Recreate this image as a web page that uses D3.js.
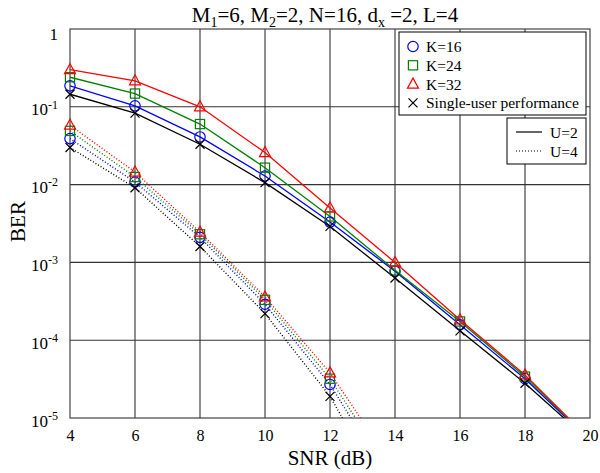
<!DOCTYPE html>
<html>
<head>
<meta charset="utf-8">
<script src="https://cdn.jsdelivr.net/npm/d3@7"></script>
<style>
body { margin: 0; background: #fff; }
svg, svg text { font-family: "Liberation Serif", "DejaVu Serif", serif; }
</style>
</head>
<body>
<script>
// data
var snr = [4, 6, 8, 10, 12, 14, 16, 18, 20];
var xTicks = [4, 6, 8, 10, 12, 14, 16, 18, 20];
var yTicks = [1, 1e-1, 1e-2, 1e-3, 1e-4, 1e-5];

// U=2 (solid)
var u2_k16 = [0.186, 0.103, 0.041, 0.0129, 0.0033, 7.7e-4, 1.58e-4, 3.2e-5, 5.1e-6];
var u2_k24 = [0.24, 0.148, 0.060, 0.0165, 0.0039, 7.9e-4, 1.74e-4, 3.4e-5, 5.2e-6];
var u2_k32 = [0.30, 0.216, 0.100, 0.0258, 0.0050, 1.0e-3, 1.83e-4, 3.58e-5, 5.3e-6];
var u2_single = [0.145, 0.083, 0.033, 0.0106, 0.0029, 6.3e-4, 1.32e-4, 2.8e-5, 5.0e-6];

// U=4 (dotted)
var u4_k16 = [0.039, 0.0108, 0.0021, 2.9e-4, 2.7e-5, 1.23e-6];
var u4_k24 = [0.049, 0.0125, 0.0023, 3.3e-4, 3.2e-5, 1.66e-6];
var u4_k32 = [0.058, 0.0145, 0.00245, 3.6e-4, 3.8e-5, 2.2e-6];
var u4_single = [0.030, 0.0091, 0.0016, 2.2e-4, 1.9e-5, 6.6e-7];

var series = [
	{ values: u2_k16, color: '#0000ff', marker: 'circle', dash: null },
	{ values: u2_k24, color: '#008000', marker: 'square', dash: null },
	{ values: u2_k32, color: '#ff0000', marker: 'triangle', dash: null },
	{ values: u2_single, color: '#000000', marker: 'cross', dash: null },
	{ values: u4_k16, color: '#0000ff', marker: 'circle', dash: '1,2' },
	{ values: u4_k24, color: '#008000', marker: 'square', dash: '1,2' },
	{ values: u4_k32, color: '#ff0000', marker: 'triangle', dash: '1,2' },
	{ values: u4_single, color: '#000000', marker: 'cross', dash: '1,2' },
];

// chart
var margin = { top: 29, right: 10, bottom: 55, left: 70 };
var W = 600, H = 473;
var width = W - margin.left - margin.right;
var height = H - margin.top - margin.bottom;

var svg = d3.select('body').append('svg')
	.attr('width', W)
	.attr('height', H);

var g = svg.append('g')
	.attr('transform', 'translate(' + margin.left + ',' + margin.top + ')');

g.append('defs').append('clipPath')
	.attr('id', 'clip')
	.append('rect')
	.attr('width', width)
	.attr('height', height);

var x = d3.scaleLinear().domain([4, 20]).range([0, width]);
var y = d3.scaleLog().domain([1e-5, 1]).range([height, 0]);

// grid
g.append('g').selectAll('line.vg')
	.data(xTicks.slice(1, -1))
	.enter().append('line')
	.attr('x1', function (d) { return x(d); })
	.attr('x2', function (d) { return x(d); })
	.attr('y1', 0).attr('y2', height)
	.attr('stroke', '#333').attr('stroke-width', 1.1);
g.append('g').selectAll('line.hg')
	.data(yTicks.slice(1, -1))
	.enter().append('line')
	.attr('y1', function (d) { return y(d); })
	.attr('y2', function (d) { return y(d); })
	.attr('x1', 0).attr('x2', width)
	.attr('stroke', '#333').attr('stroke-width', 1.1);

// axes
var x_axis = d3.axisBottom(x).tickValues(xTicks).tickSize(0).tickPadding(12)
	.tickFormat(d3.format('d'));
var gx = g.append('g')
	.attr('transform', 'translate(0,' + height + ')')
	.call(x_axis)
	.attr('font-family', null);
gx.select('.domain').remove();
gx.selectAll('text').attr('font-size', 16).attr('fill', '#000');

var y_axis = d3.axisLeft(y).tickValues(yTicks).tickSize(0).tickPadding(12)
	.tickFormat(function () { return ''; });
var gy = g.append('g').call(y_axis).attr('font-family', null);
gy.select('.domain').remove();
gy.selectAll('.tick text').each(function (d) {
	var t = d3.select(this)
		.attr('font-size', 17).attr('fill', '#000');
	if (d === 1) {
		t.text('1').attr('dy', '0.6em');
	} else {
		t.text('10').attr('dy', '0.47em');
		t.append('tspan')
			.attr('font-size', 12)
			.attr('dy', '-0.55em')
			.text(String(Math.round(Math.log10(d))));
	}
});

// frame
g.append('rect')
	.attr('width', width).attr('height', height)
	.attr('fill', 'none').attr('stroke', '#444').attr('stroke-width', 1.2);

// lines
var line = d3.line()
	.x(function (d, i) { return x(snr[i]); })
	.y(function (d) { return y(d); });

var plot = g.append('g');
series.forEach(function (s) {
	plot.append('path')
		.datum(s.values)
		.attr('d', line)
		.attr('clip-path', 'url(#clip)')
		.attr('fill', 'none')
		.attr('stroke', s.color)
		.attr('stroke-width', s.dash ? 1.4 : 1.3)
		.attr('stroke-dasharray', s.dash);
});

function drawMarker (sel, type, cx, cy, color) {
	if (type === 'circle') {
		sel.append('circle').attr('cx', cx).attr('cy', cy).attr('r', 5.2)
			.attr('fill', 'none').attr('stroke', color).attr('stroke-width', 1.2);
	} else if (type === 'square') {
		sel.append('rect').attr('x', cx - 4.6).attr('y', cy - 4.6)
			.attr('width', 9.2).attr('height', 9.2)
			.attr('fill', 'none').attr('stroke', color).attr('stroke-width', 1.2);
	} else if (type === 'triangle') {
		sel.append('path')
			.attr('d', 'M' + cx + ',' + (cy - 6) + 'L' + (cx + 5.5) + ',' + (cy + 4) + 'L' + (cx - 5.5) + ',' + (cy + 4) + 'Z')
			.attr('fill', 'none').attr('stroke', color).attr('stroke-width', 1.2);
	} else {
		sel.append('path')
			.attr('d', 'M' + (cx - 4.5) + ',' + (cy - 4.5) + 'L' + (cx + 4.5) + ',' + (cy + 4.5) +
				'M' + (cx + 4.5) + ',' + (cy - 4.5) + 'L' + (cx - 4.5) + ',' + (cy + 4.5))
			.attr('fill', 'none').attr('stroke', color).attr('stroke-width', 1.2);
	}
}

series.forEach(function (s) {
	s.values.forEach(function (v, i) {
		if (v < 1e-5) return;
		drawMarker(plot, s.marker, x(snr[i]), y(v), s.color);
	});
});

// title & labels
var title = svg.append('text')
	.attr('x', margin.left + width / 2 - 5).attr('y', 22)
	.attr('text-anchor', 'middle').attr('font-size', 21);
var tparts = [['M', ''], ['1', 'sub'], ['=6, M', ''], ['2', 'sub'], ['=2, N=16, d', ''], ['x', 'sub'], [' =2, L=4', '']];
tparts.forEach(function (p, i) {
	var ts = title.append('tspan').text(p[0]);
	if (p[1] === 'sub') ts.attr('font-size', 14).attr('dy', 5);
	else if (i > 0) ts.attr('dy', -5);
});

svg.append('text')
	.attr('x', margin.left + width / 2).attr('y', 465)
	.attr('text-anchor', 'middle').attr('font-size', 21)
	.text('SNR (dB)');

svg.append('text')
	.attr('transform', 'translate(25,' + (margin.top + height / 2 - 2) + ') rotate(-90)')
	.attr('text-anchor', 'middle').attr('font-size', 21)
	.text('BER');

// legend: markers
var leg1 = svg.append('g').attr('transform', 'translate(399,32)');
leg1.append('rect').attr('width', 187).attr('height', 83)
	.attr('fill', '#fff').attr('stroke', '#000').attr('stroke-width', 1);
var leg1Items = [
	{ label: 'K=16', marker: 'circle', color: '#0000ff' },
	{ label: 'K=24', marker: 'square', color: '#008000' },
	{ label: 'K=32', marker: 'triangle', color: '#ff0000' },
	{ label: 'Single-user performance', marker: 'cross', color: '#000000' },
];
leg1Items.forEach(function (d, i) {
	var cy = 14.5 + i * 18.8;
	drawMarker(leg1, d.marker, 14, cy, d.color);
	leg1.append('text').attr('x', 27).attr('y', cy + 5.5)
		.attr('font-size', 15.5).text(d.label);
});

// legend: line styles
var leg2 = svg.append('g').attr('transform', 'translate(507,118)');
leg2.append('rect').attr('width', 79).attr('height', 46)
	.attr('fill', '#fff').attr('stroke', '#000').attr('stroke-width', 1);
var leg2Items = [
	{ label: 'U=2', dash: null },
	{ label: 'U=4', dash: '1,2' },
];
leg2Items.forEach(function (d, i) {
	var cy = 14 + i * 19;
	leg2.append('line').attr('x1', 9).attr('x2', 35).attr('y1', cy).attr('y2', cy)
		.attr('stroke', '#000').attr('stroke-width', 1.2)
		.attr('stroke-dasharray', d.dash);
	leg2.append('text').attr('x', 43).attr('y', cy + 5.5)
		.attr('font-size', 15.5).text(d.label);
});
</script>
</body>
</html>
